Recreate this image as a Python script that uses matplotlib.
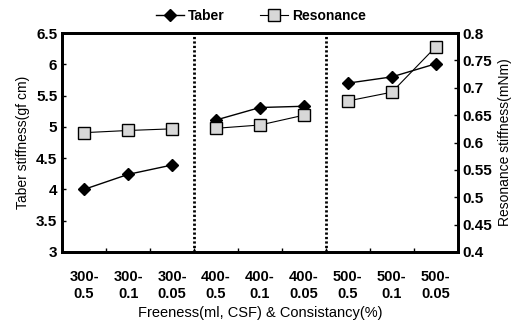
import matplotlib.pyplot as plt
import numpy as np
from matplotlib.lines import Line2D

plt.rcParams.update(
    {
        "font.family": ["Liberation Sans", "DejaVu Sans"],
        "font.size": 10,
        "font.weight": "bold",
    }
)

# data
CATEGORIES = [
    "300-\n0.5", "300-\n0.1", "300-\n0.05",
    "400-\n0.5", "400-\n0.1", "400-\n0.05",
    "500-\n0.5", "500-\n0.1", "500-\n0.05",
]
TABER = [4.0, 4.24, 4.39, 5.11, 5.31, 5.33, 5.70, 5.80, 6.01]
RESONANCE = [0.618, 0.622, 0.625, 0.626, 0.632, 0.650, 0.676, 0.692, 0.775]
GROUP_SIZE = 3

LEFT_TICKS = [3, 3.5, 4, 4.5, 5, 5.5, 6, 6.5]
RIGHT_TICKS = [0.4, 0.45, 0.5, 0.55, 0.6, 0.65, 0.7, 0.75, 0.8]

TABER_STYLE = dict(color="black", lw=1.0, marker="D", ms=6.5,
                   mfc="black", mec="black")
RES_STYLE = dict(color="black", lw=0.8, marker="s", ms=8,
                 mfc="#d8d8d8", mec="black", mew=1.0)


def main() -> None:
    fig = plt.figure(figsize=(5.22, 3.28), dpi=100)
    ax = fig.add_axes([0.119, 0.232, 0.758, 0.667])
    ax2 = ax.twinx()

    x = np.arange(len(CATEGORIES))
    # each freeness group is drawn as its own segment
    for start in range(0, len(CATEGORIES), GROUP_SIZE):
        sl = slice(start, start + GROUP_SIZE)
        ax.plot(x[sl], TABER[sl], zorder=4, **TABER_STYLE)
        ax2.plot(x[sl], RESONANCE[sl], zorder=4, **RES_STYLE)

    ax.set_xlim(-0.5, len(CATEGORIES) - 0.5)
    ax.set_ylim(3, 6.5)
    ax2.set_ylim(0.4, 0.8)

    for b in range(GROUP_SIZE, len(CATEGORIES), GROUP_SIZE):
        ax.axvline(b - 0.5, color="black", ls=(0, (0.8, 0.8)), lw=2.0, zorder=2)

    ax.set_xticks(x)
    ax.set_xticklabels(CATEGORIES, linespacing=1.25, fontsize=10.5)
    ax.tick_params(axis="x", which="major", length=0, pad=13)
    ax.set_xticks(np.arange(len(CATEGORIES) + 1) - 0.5, minor=True)
    ax.tick_params(axis="x", which="minor", direction="in", length=3, width=1)

    ax.set_yticks(LEFT_TICKS)
    ax.set_yticklabels([f"{v:g}" for v in LEFT_TICKS])
    ax.tick_params(axis="y", direction="in", length=3, width=1, labelsize=11)
    ax2.set_yticks(RIGHT_TICKS)
    ax2.set_yticklabels([f"{v:g}" for v in RIGHT_TICKS])
    ax2.tick_params(axis="y", direction="in", length=3, width=1, labelsize=11)

    for a in (ax, ax2):
        for sp in a.spines.values():
            sp.set_linewidth(2.0)

    ax.set_ylabel("Taber stiffness(gf cm)", fontsize=10, labelpad=4)
    ax2.set_ylabel("Resonance stiffness(mNm)", fontsize=10, labelpad=4)
    ax.set_xlabel("Freeness(ml, CSF) & Consistancy(%)", fontsize=10.5, labelpad=4)

    handles = [Line2D([], [], **TABER_STYLE), Line2D([], [], **RES_STYLE)]
    fig.legend(handles, ["Taber", "Resonance"], loc="upper center",
               bbox_to_anchor=(0.5, 1.01), ncol=2, frameon=False,
               handlelength=2.0, handletextpad=0.3, columnspacing=2.5,
               fontsize=10)

    fig.savefig("out.png", dpi=100)


if __name__ == "__main__":
    main()
